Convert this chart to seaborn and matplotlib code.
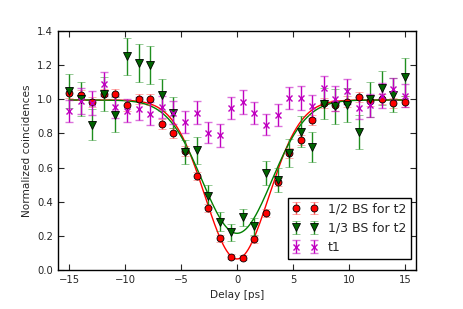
import numpy as np
import pandas as pd
import matplotlib
matplotlib.use("Agg")
import matplotlib.pyplot as plt
import seaborn as sns

# ---- data ----
delay = np.linspace(-15, 15, 30)

bs12 = [1.035, 1.025, 0.982, 1.031, 1.031, 0.963, 1.002, 0.998, 0.856, 0.803,
        0.695, 0.550, 0.364, 0.185, 0.078, 0.072, 0.180, 0.335, 0.516, 0.685,
        0.759, 0.879, 0.979, 0.963, 0.986, 1.014, 0.992, 1.002, 0.979, 0.986]
bs12_err = [0.03, 0.03, 0.03, 0.03, 0.03, 0.03, 0.03, 0.03, 0.03, 0.03,
            0.03, 0.025, 0.025, 0.02, 0.015, 0.015, 0.02, 0.025, 0.025, 0.03,
            0.03, 0.03, 0.03, 0.03, 0.03, 0.03, 0.03, 0.03, 0.03, 0.03]

bs13 = [1.050, 1.000, 0.850, 1.030, 0.910, 1.250, 1.210, 1.200, 1.025, 0.920,
        0.690, 0.700, 0.434, 0.282, 0.220, 0.310, 0.255, 0.570, 0.525, 0.685,
        0.810, 0.720, 0.973, 0.957, 0.967, 0.807, 0.998, 1.066, 1.025, 1.128]
bs13_err = [0.10, 0.10, 0.09, 0.10, 0.10, 0.11, 0.11, 0.11, 0.095, 0.09,
            0.07, 0.08, 0.065, 0.055, 0.05, 0.05, 0.05, 0.07, 0.07, 0.08,
            0.09, 0.085, 0.09, 0.10, 0.10, 0.10, 0.10, 0.10, 0.10, 0.11]

t1 = [0.930, 0.990, 0.975, 1.090, 0.953, 0.932, 0.944, 0.915, 0.953, 0.920,
      0.866, 0.920, 0.803, 0.788, 0.947, 0.986, 0.920, 0.850, 0.909, 1.006,
      1.006, 0.957, 1.064, 1.002, 1.045, 0.947, 0.963, 1.021, 1.060, 1.021]
t1_err = [0.065, 0.075, 0.07, 0.07, 0.065, 0.068, 0.066, 0.068, 0.065, 0.068,
          0.066, 0.068, 0.062, 0.066, 0.066, 0.07, 0.066, 0.062, 0.065, 0.066,
          0.07, 0.066, 0.07, 0.072, 0.075, 0.066, 0.07, 0.072, 0.065, 0.068]

labels = ["1/2 BS for t2", "1/3 BS for t2", "t1"]

# Gaussian dip fit parameters (offset, depth, sigma)
fit12 = (0.995, 0.93, 2.85)
fit13 = (0.995, 0.78, 3.1)

# ---- style ----
sns.set_style("ticks")
plt.rcParams["font.family"] = ["DejaVu Sans"]
plt.rcParams.update({
    "xtick.direction": "in", "ytick.direction": "in",
    "xtick.top": True, "ytick.right": True,
    "xtick.major.size": 4, "ytick.major.size": 4,
    "xtick.major.width": 0.8, "ytick.major.width": 0.8,
    "axes.edgecolor": "black", "axes.linewidth": 1.0,
    "xtick.labelsize": 7.2, "ytick.labelsize": 7.2,
    "axes.labelsize": 7.6,
})

fig = plt.figure(figsize=(4.63, 3.09), dpi=100)
ax = fig.add_axes([0.1253, 0.126, 0.7732, 0.7744])

xf = np.linspace(-15, 15, 400)
def dip(p, x):
    c, a, s = p
    return c - a * np.exp(-x ** 2 / (2 * s ** 2))

curves = pd.DataFrame({
    "x": np.concatenate([xf, xf]),
    "y": np.concatenate([dip(fit12, xf), dip(fit13, xf)]),
    "fit": ["a"] * len(xf) + ["b"] * len(xf),
})
sns.lineplot(data=curves, x="x", y="y", hue="fit",
             palette={"a": "red", "b": "green"}, linewidth=1.0,
             legend=False, ax=ax, zorder=2)

def eb(y, e, color, ecolor, marker, ms, mfc, mec, label, mew=0.6):
    line, caps, bars = ax.errorbar(delay, y, yerr=e, fmt=marker, color=color,
                                   ecolor=ecolor, elinewidth=1.0, capsize=3,
                                   capthick=1.0, ms=ms, mfc=mfc, mec=mec,
                                   mew=mew, label=label, zorder=3)
    for c in caps:
        c.set_alpha(0.55)
    return line

eb(bs12, bs12_err, "red", "#ff5050", "o", 5.0, "red", "black", labels[0])
eb(bs13, bs13_err, "darkgreen", "#1f8f1f", "v", 5.5, "#006400", "black", labels[1])
eb(t1, t1_err, "#c000c0", "#c000c0", "x", 5.0, "#c000c0", "#c000c0", labels[2], mew=1.0)

ax.set_xlim(-16, 16)
ax.set_ylim(0, 1.4)
ax.set_xticks([-15, -10, -5, 0, 5, 10, 15])
ax.set_yticks([0.0, 0.2, 0.4, 0.6, 0.8, 1.0, 1.2, 1.4])
ax.set_yticklabels([f"{v:.1f}" for v in [0.0, 0.2, 0.4, 0.6, 0.8, 1.0, 1.2, 1.4]])
ax.set_xlabel("Delay [ps]")
ax.set_ylabel("Normalized coincidences")

leg = ax.legend(loc="lower right", bbox_to_anchor=(0.986, 0.046), borderaxespad=0,
                numpoints=2, fontsize=9, fancybox=False, framealpha=1,
                edgecolor="black", handlelength=2.0)
leg.get_frame().set_linewidth(1.0)

fig.savefig("out.png", dpi=100)
